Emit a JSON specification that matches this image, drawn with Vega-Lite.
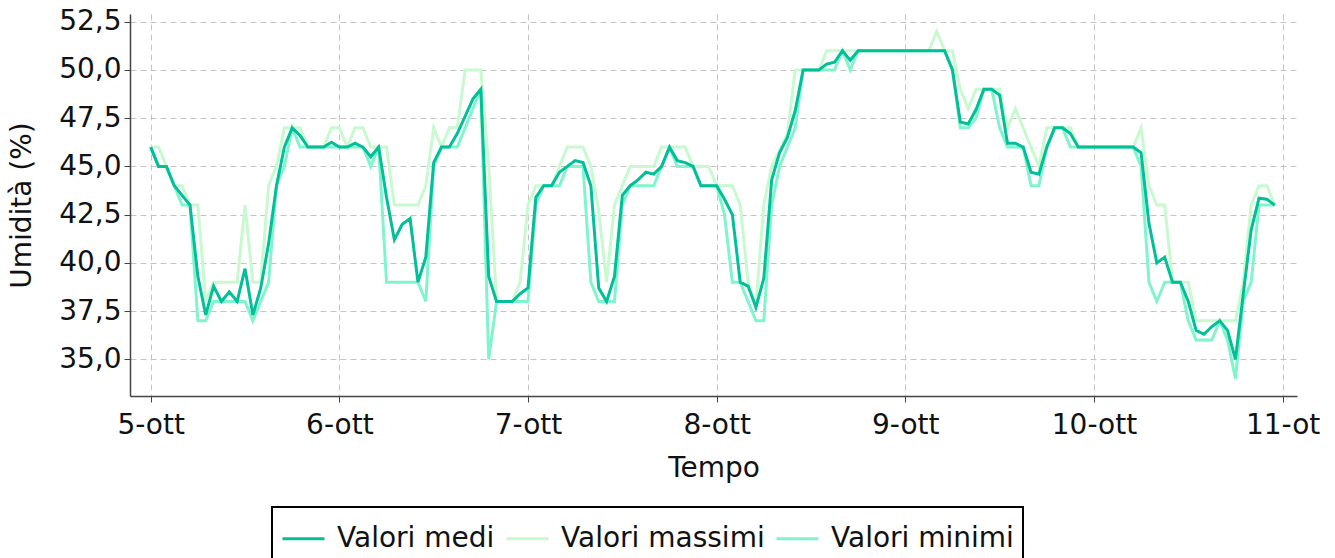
{
  "$schema": "https://vega.github.io/schema/vega-lite/v6.json",
  "width": 1167,
  "height": 382,
  "autosize": {"type": "none"},
  "padding": {"left": 130, "top": 14, "right": 38, "bottom": 162},
  "background": "white",
  "config": {
    "view": {"stroke": null},
    "font": "DejaVu Sans",
    "legend": {"strokeWidth": 2},
    "axis": {
      "labelFont": "DejaVu Sans",
      "labelFontSize": 28,
      "labelColor": "#111111",
      "titleFont": "DejaVu Sans",
      "titleFontSize": 28,
      "titleFontWeight": "normal",
      "titleColor": "#111111",
      "tickSize": 6,
      "tickColor": "#444444",
      "domainColor": "#444444",
      "domainWidth": 1.5,
      "grid": true,
      "gridColor": "#c4c4c4",
      "gridDash": [6, 4],
      "gridWidth": 1
    }
  },
  "data": {"values": [
    {"t":"2020-10-05T00:00","medi":46,"massimi":46,"minimi":46},
    {"t":"2020-10-05T01:00","medi":45,"massimi":46,"minimi":45},
    {"t":"2020-10-05T02:00","medi":45,"massimi":45,"minimi":45},
    {"t":"2020-10-05T03:00","medi":44,"massimi":44,"minimi":44},
    {"t":"2020-10-05T04:00","medi":43.5,"massimi":44,"minimi":43},
    {"t":"2020-10-05T05:00","medi":43,"massimi":43,"minimi":43},
    {"t":"2020-10-05T06:00","medi":39.3,"massimi":43,"minimi":37},
    {"t":"2020-10-05T07:00","medi":37.3,"massimi":38,"minimi":37},
    {"t":"2020-10-05T08:00","medi":38.8,"massimi":39,"minimi":38},
    {"t":"2020-10-05T09:00","medi":38,"massimi":39,"minimi":38},
    {"t":"2020-10-05T10:00","medi":38.5,"massimi":39,"minimi":38},
    {"t":"2020-10-05T11:00","medi":38,"massimi":39,"minimi":38},
    {"t":"2020-10-05T12:00","medi":39.7,"massimi":43,"minimi":38},
    {"t":"2020-10-05T13:00","medi":37.3,"massimi":39,"minimi":37},
    {"t":"2020-10-05T14:00","medi":38.7,"massimi":39,"minimi":38},
    {"t":"2020-10-05T15:00","medi":41,"massimi":44,"minimi":39},
    {"t":"2020-10-05T16:00","medi":44,"massimi":45,"minimi":44},
    {"t":"2020-10-05T17:00","medi":46,"massimi":47,"minimi":45},
    {"t":"2020-10-05T18:00","medi":47,"massimi":47,"minimi":47},
    {"t":"2020-10-05T19:00","medi":46.6,"massimi":47,"minimi":46},
    {"t":"2020-10-05T20:00","medi":46,"massimi":46,"minimi":46},
    {"t":"2020-10-05T21:00","medi":46,"massimi":46,"minimi":46},
    {"t":"2020-10-05T22:00","medi":46,"massimi":46,"minimi":46},
    {"t":"2020-10-05T23:00","medi":46.25,"massimi":47,"minimi":46},
    {"t":"2020-10-06T00:00","medi":46,"massimi":47,"minimi":46},
    {"t":"2020-10-06T01:00","medi":46,"massimi":46,"minimi":46},
    {"t":"2020-10-06T02:00","medi":46.2,"massimi":47,"minimi":46},
    {"t":"2020-10-06T03:00","medi":46,"massimi":47,"minimi":46},
    {"t":"2020-10-06T04:00","medi":45.5,"massimi":46,"minimi":45},
    {"t":"2020-10-06T05:00","medi":46,"massimi":46,"minimi":46},
    {"t":"2020-10-06T06:00","medi":43.4,"massimi":46,"minimi":39},
    {"t":"2020-10-06T07:00","medi":41.2,"massimi":43,"minimi":39},
    {"t":"2020-10-06T08:00","medi":42,"massimi":43,"minimi":39},
    {"t":"2020-10-06T09:00","medi":42.3,"massimi":43,"minimi":39},
    {"t":"2020-10-06T10:00","medi":39,"massimi":43,"minimi":39},
    {"t":"2020-10-06T11:00","medi":40.3,"massimi":44,"minimi":38},
    {"t":"2020-10-06T12:00","medi":45.2,"massimi":47,"minimi":45},
    {"t":"2020-10-06T13:00","medi":46,"massimi":46,"minimi":46},
    {"t":"2020-10-06T14:00","medi":46,"massimi":47,"minimi":46},
    {"t":"2020-10-06T15:00","medi":46.7,"massimi":47,"minimi":46},
    {"t":"2020-10-06T16:00","medi":47.6,"massimi":50,"minimi":47},
    {"t":"2020-10-06T17:00","medi":48.5,"massimi":50,"minimi":48},
    {"t":"2020-10-06T18:00","medi":49,"massimi":50,"minimi":49},
    {"t":"2020-10-06T19:00","medi":39.3,"massimi":45,"minimi":35},
    {"t":"2020-10-06T20:00","medi":38,"massimi":38,"minimi":38},
    {"t":"2020-10-06T21:00","medi":38,"massimi":38,"minimi":38},
    {"t":"2020-10-06T22:00","medi":38,"massimi":38,"minimi":38},
    {"t":"2020-10-06T23:00","medi":38.4,"massimi":39,"minimi":38},
    {"t":"2020-10-07T00:00","medi":38.7,"massimi":43,"minimi":38},
    {"t":"2020-10-07T01:00","medi":43.4,"massimi":44,"minimi":43},
    {"t":"2020-10-07T02:00","medi":44,"massimi":44,"minimi":44},
    {"t":"2020-10-07T03:00","medi":44,"massimi":44,"minimi":44},
    {"t":"2020-10-07T04:00","medi":44.7,"massimi":45,"minimi":44},
    {"t":"2020-10-07T05:00","medi":45,"massimi":46,"minimi":45},
    {"t":"2020-10-07T06:00","medi":45.3,"massimi":46,"minimi":45},
    {"t":"2020-10-07T07:00","medi":45.2,"massimi":46,"minimi":45},
    {"t":"2020-10-07T08:00","medi":44,"massimi":45,"minimi":39},
    {"t":"2020-10-07T09:00","medi":38.7,"massimi":42.7,"minimi":38},
    {"t":"2020-10-07T10:00","medi":38,"massimi":39,"minimi":38},
    {"t":"2020-10-07T11:00","medi":39.3,"massimi":43,"minimi":38},
    {"t":"2020-10-07T12:00","medi":43.5,"massimi":44,"minimi":43},
    {"t":"2020-10-07T13:00","medi":44,"massimi":45,"minimi":44},
    {"t":"2020-10-07T14:00","medi":44.3,"massimi":45,"minimi":44},
    {"t":"2020-10-07T15:00","medi":44.7,"massimi":45,"minimi":44},
    {"t":"2020-10-07T16:00","medi":44.6,"massimi":45,"minimi":44},
    {"t":"2020-10-07T17:00","medi":45,"massimi":46,"minimi":45},
    {"t":"2020-10-07T18:00","medi":46,"massimi":46,"minimi":46},
    {"t":"2020-10-07T19:00","medi":45.3,"massimi":46,"minimi":45},
    {"t":"2020-10-07T20:00","medi":45.2,"massimi":46,"minimi":45},
    {"t":"2020-10-07T21:00","medi":45,"massimi":45,"minimi":45},
    {"t":"2020-10-07T22:00","medi":44,"massimi":45,"minimi":44},
    {"t":"2020-10-07T23:00","medi":44,"massimi":45,"minimi":44},
    {"t":"2020-10-08T00:00","medi":44,"massimi":44,"minimi":44},
    {"t":"2020-10-08T01:00","medi":43.3,"massimi":44,"minimi":42.5},
    {"t":"2020-10-08T02:00","medi":42.5,"massimi":44,"minimi":39},
    {"t":"2020-10-08T03:00","medi":39,"massimi":43,"minimi":39},
    {"t":"2020-10-08T04:00","medi":38.8,"massimi":39,"minimi":38},
    {"t":"2020-10-08T05:00","medi":37.7,"massimi":37.8,"minimi":37},
    {"t":"2020-10-08T06:00","medi":39.2,"massimi":43,"minimi":37},
    {"t":"2020-10-08T07:00","medi":44.3,"massimi":45,"minimi":43},
    {"t":"2020-10-08T08:00","medi":45.7,"massimi":45.8,"minimi":45},
    {"t":"2020-10-08T09:00","medi":46.5,"massimi":46.7,"minimi":46},
    {"t":"2020-10-08T10:00","medi":47.9,"massimi":50,"minimi":47},
    {"t":"2020-10-08T11:00","medi":50,"massimi":50,"minimi":50},
    {"t":"2020-10-08T12:00","medi":50,"massimi":50,"minimi":50},
    {"t":"2020-10-08T13:00","medi":50,"massimi":50,"minimi":50},
    {"t":"2020-10-08T14:00","medi":50.3,"massimi":51,"minimi":50},
    {"t":"2020-10-08T15:00","medi":50.4,"massimi":51,"minimi":50},
    {"t":"2020-10-08T16:00","medi":51,"massimi":51,"minimi":51},
    {"t":"2020-10-08T17:00","medi":50.5,"massimi":51,"minimi":50},
    {"t":"2020-10-08T18:00","medi":51,"massimi":51,"minimi":51},
    {"t":"2020-10-08T19:00","medi":51,"massimi":51,"minimi":51},
    {"t":"2020-10-08T20:00","medi":51,"massimi":51,"minimi":51},
    {"t":"2020-10-08T21:00","medi":51,"massimi":51,"minimi":51},
    {"t":"2020-10-08T22:00","medi":51,"massimi":51,"minimi":51},
    {"t":"2020-10-08T23:00","medi":51,"massimi":51,"minimi":51},
    {"t":"2020-10-09T00:00","medi":51,"massimi":51,"minimi":51},
    {"t":"2020-10-09T01:00","medi":51,"massimi":51,"minimi":51},
    {"t":"2020-10-09T02:00","medi":51,"massimi":51,"minimi":51},
    {"t":"2020-10-09T03:00","medi":51,"massimi":51,"minimi":51},
    {"t":"2020-10-09T04:00","medi":51,"massimi":52,"minimi":51},
    {"t":"2020-10-09T05:00","medi":51,"massimi":51,"minimi":51},
    {"t":"2020-10-09T06:00","medi":50,"massimi":51,"minimi":50},
    {"t":"2020-10-09T07:00","medi":47.3,"massimi":49,"minimi":47},
    {"t":"2020-10-09T08:00","medi":47.2,"massimi":48,"minimi":47},
    {"t":"2020-10-09T09:00","medi":47.95,"massimi":49,"minimi":47.5},
    {"t":"2020-10-09T10:00","medi":49,"massimi":49,"minimi":49},
    {"t":"2020-10-09T11:00","medi":49,"massimi":49,"minimi":49},
    {"t":"2020-10-09T12:00","medi":48.7,"massimi":49,"minimi":47},
    {"t":"2020-10-09T13:00","medi":46.2,"massimi":47,"minimi":46},
    {"t":"2020-10-09T14:00","medi":46.2,"massimi":48,"minimi":46},
    {"t":"2020-10-09T15:00","medi":46,"massimi":47,"minimi":46},
    {"t":"2020-10-09T16:00","medi":44.7,"massimi":46,"minimi":44},
    {"t":"2020-10-09T17:00","medi":44.6,"massimi":45,"minimi":44},
    {"t":"2020-10-09T18:00","medi":46,"massimi":47,"minimi":46},
    {"t":"2020-10-09T19:00","medi":47,"massimi":47,"minimi":47},
    {"t":"2020-10-09T20:00","medi":47,"massimi":47,"minimi":47},
    {"t":"2020-10-09T21:00","medi":46.7,"massimi":47,"minimi":46},
    {"t":"2020-10-09T22:00","medi":46,"massimi":46,"minimi":46},
    {"t":"2020-10-09T23:00","medi":46,"massimi":46,"minimi":46},
    {"t":"2020-10-10T00:00","medi":46,"massimi":46,"minimi":46},
    {"t":"2020-10-10T01:00","medi":46,"massimi":46,"minimi":46},
    {"t":"2020-10-10T02:00","medi":46,"massimi":46,"minimi":46},
    {"t":"2020-10-10T03:00","medi":46,"massimi":46,"minimi":46},
    {"t":"2020-10-10T04:00","medi":46,"massimi":46,"minimi":46},
    {"t":"2020-10-10T05:00","medi":46,"massimi":46,"minimi":46},
    {"t":"2020-10-10T06:00","medi":45.7,"massimi":47,"minimi":45},
    {"t":"2020-10-10T07:00","medi":42.05,"massimi":44,"minimi":39},
    {"t":"2020-10-10T08:00","medi":40,"massimi":43,"minimi":38},
    {"t":"2020-10-10T09:00","medi":40.3,"massimi":43,"minimi":39},
    {"t":"2020-10-10T10:00","medi":39,"massimi":39,"minimi":39},
    {"t":"2020-10-10T11:00","medi":39,"massimi":39,"minimi":39},
    {"t":"2020-10-10T12:00","medi":38,"massimi":39,"minimi":37},
    {"t":"2020-10-10T13:00","medi":36.5,"massimi":37,"minimi":36},
    {"t":"2020-10-10T14:00","medi":36.3,"massimi":37,"minimi":36},
    {"t":"2020-10-10T15:00","medi":36.7,"massimi":37,"minimi":36},
    {"t":"2020-10-10T16:00","medi":37,"massimi":37,"minimi":37},
    {"t":"2020-10-10T17:00","medi":36.5,"massimi":37,"minimi":36},
    {"t":"2020-10-10T18:00","medi":35,"massimi":37,"minimi":34},
    {"t":"2020-10-10T19:00","medi":38.4,"massimi":39,"minimi":38},
    {"t":"2020-10-10T20:00","medi":41.7,"massimi":43,"minimi":39},
    {"t":"2020-10-10T21:00","medi":43.35,"massimi":44,"minimi":43},
    {"t":"2020-10-10T22:00","medi":43.3,"massimi":44,"minimi":43},
    {"t":"2020-10-10T23:00","medi":43,"massimi":43,"minimi":43}
  ]},
  "encoding": {
    "x": {
      "field": "t",
      "type": "temporal",
      "scale": {"domain": [
        {"year": 2020, "month": 10, "date": 4, "hours": 21, "minutes": 22},
        {"year": 2020, "month": 10, "date": 11, "hours": 1, "minutes": 50}
      ]},
      "axis": {
        "title": "Tempo",
        "titlePadding": 15,
        "labelPadding": 9,
        "tickCount": {"interval": "day", "step": 1},
        "labelExpr": "date(datum.value) == 11 ? '11-ot' : timeFormat(datum.value, '%-d') + '-ott'",
        "labelFlush": false,
        "labelOverlap": false
      }
    }
  },
  "layer": [
    {
      "mark": {"type": "line", "strokeWidth": 3},
      "encoding": {
        "y": {"field": "massimi", "type": "quantitative", "title": "Umidità (%)",
              "scale": {"domain": [33.1, 52.9], "nice": false, "zero": false},
              "axis": {"values": [35, 37.5, 40, 42.5, 45, 47.5, 50, 52.5], "labelExpr": "replace(format(datum.value, '.1f'), '.', ',')", "labelPadding": 3, "titlePadding": 22}},
        "color": {"datum": "Valori massimi", "type": "nominal",
                  "scale": {"domain": ["Valori medi", "Valori massimi", "Valori minimi"], "range": ["#00bf99", "#c9f9cf", "#80f5cc"]},
                  "legend": {"title": null, "orient": "none", "legendX": 142, "legendY": 493, "direction": "horizontal",
                             "strokeColor": "black", "padding": 9, "symbolType": "stroke", "symbolSize": 1764, "symbolStrokeWidth": 3,
                             "labelFont": "DejaVu Sans", "labelFontSize": 28, "labelColor": "#111111", "labelOffset": 11,
                             "columnPadding": 5, "labelLimit": 500}}
      }
    },
    {
      "mark": {"type": "line", "strokeWidth": 3},
      "encoding": {
        "y": {"field": "minimi", "type": "quantitative", "title": "Umidità (%)"},
        "color": {"datum": "Valori minimi", "type": "nominal"}
      }
    },
    {
      "mark": {"type": "line", "strokeWidth": 3},
      "encoding": {
        "y": {"field": "medi", "type": "quantitative", "title": "Umidità (%)"},
        "color": {"datum": "Valori medi", "type": "nominal"}
      }
    }
  ]
}
